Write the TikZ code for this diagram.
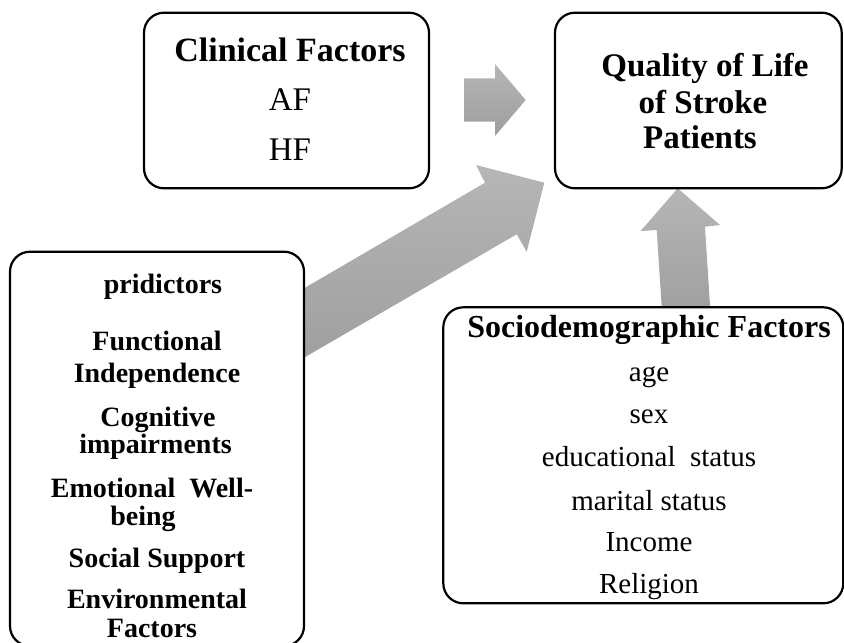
\documentclass[tikz,border=0pt]{standalone}
\usepackage{fontspec}
\setmainfont{Liberation Serif}
\definecolor{arrtop}{RGB}{182,182,182}
\definecolor{arrbot}{RGB}{158,158,158}
\begin{document}
\begin{tikzpicture}[x=1pt,y=-1pt,
  box/.style={draw=black, line width=2.2pt, rounded corners=20pt, fill=white, inner sep=0pt},
  blockarrow/.style={top color=arrtop, bottom color=arrbot, draw=none},
  hd/.style={anchor=base, inner sep=0pt, font=\bfseries\fontsize{34}{36}\selectfont},
  qd/.style={anchor=base, inner sep=0pt, font=\bfseries\fontsize{33}{36}\selectfont},
  sd/.style={anchor=base, inner sep=0pt, font=\bfseries\fontsize{32}{36}\selectfont},
  pd/.style={anchor=base, inner sep=0pt, font=\bfseries\fontsize{28}{30}\selectfont},
  tx/.style={anchor=base, inner sep=0pt, font=\fontsize{33}{36}\selectfont},
  st/.style={anchor=base, inner sep=0pt, font=\fontsize{29}{32}\selectfont}
]
\useasboundingbox (0,0) rectangle (844,643);

% block arrows (drawn first, boxes cover their tails)
\path[blockarrow] (464,78.3) -- (495,78.3) -- (495,64) -- (525.7,100) -- (495,136) -- (495,121.7) -- (464,121.7) -- cycle;
\path[blockarrow] (280,302.3) -- (485,182.7) -- (476,165) -- (544.3,182.7) -- (526.7,251.7) -- (516.7,234.3) -- (280,371.6) -- cycle;
\path[blockarrow] (662.6,320) -- (656.7,230) -- (640.7,231) -- (677.7,188.3) -- (720,225) -- (705,226.7) -- (710.9,320) -- cycle;

% boxes
\node[box, minimum width=285pt, minimum height=175.6pt] (clin) at (286.5,100.5) {};
\node[box, minimum width=286.7pt, minimum height=175.6pt] (qol) at (698.35,100.5) {};
\node[box, minimum width=294pt, minimum height=394.3pt] (pred) at (157,448.85) {};
\node[box, minimum width=400pt, minimum height=296pt] (socio) at (643.3,455.3) {};

% clinical factors
\node[hd] (c1) at (290,61.7) {Clinical Factors};
\node[tx] (c2) at (290,110) {AF};
\node[tx] (c3) at (290,160) {HF};

% quality of life
\node[qd] (q1) at (705,76) {Quality of Life};
\node[qd] (q2) at (703,113.3) {of Stroke};
\node[qd] (q3) at (700,148.3) {Patients};

% sociodemographic
\node[sd] (s0) at (649,337) {Sociodemographic Factors};
\node[st] (s1) at (649,381.7) {age};
\node[st] (s2) at (649,423.5) {sex};
\node[st] (s3) at (649,466.7) {educational\ \ status};
\node[st] (s4) at (649,510) {marital status};
\node[st] (s5) at (649,551.7) {Income};
\node[st] (s6) at (649,593.3) {Religion};

% predictors
\node[pd] (p0) at (163,293.3) {pridictors};
\node[pd] (p1) at (157,350.5) {Functional};
\node[pd] (p2) at (157,382.7) {Independence};
\node[pd] (p3) at (158,426) {Cognitive};
\node[pd] (p4) at (155.5,453.3) {impairments};
\node[pd] (p5) at (152,497) {Emotional\ \ Well-};
\node[pd] (p6) at (143,525) {being};
\node[pd] (p7) at (157,567) {Social Support};
\node[pd] (p8) at (157,608) {Environmental};
\node[pd] (p9) at (152,637) {Factors};
\end{tikzpicture}
\end{document}
